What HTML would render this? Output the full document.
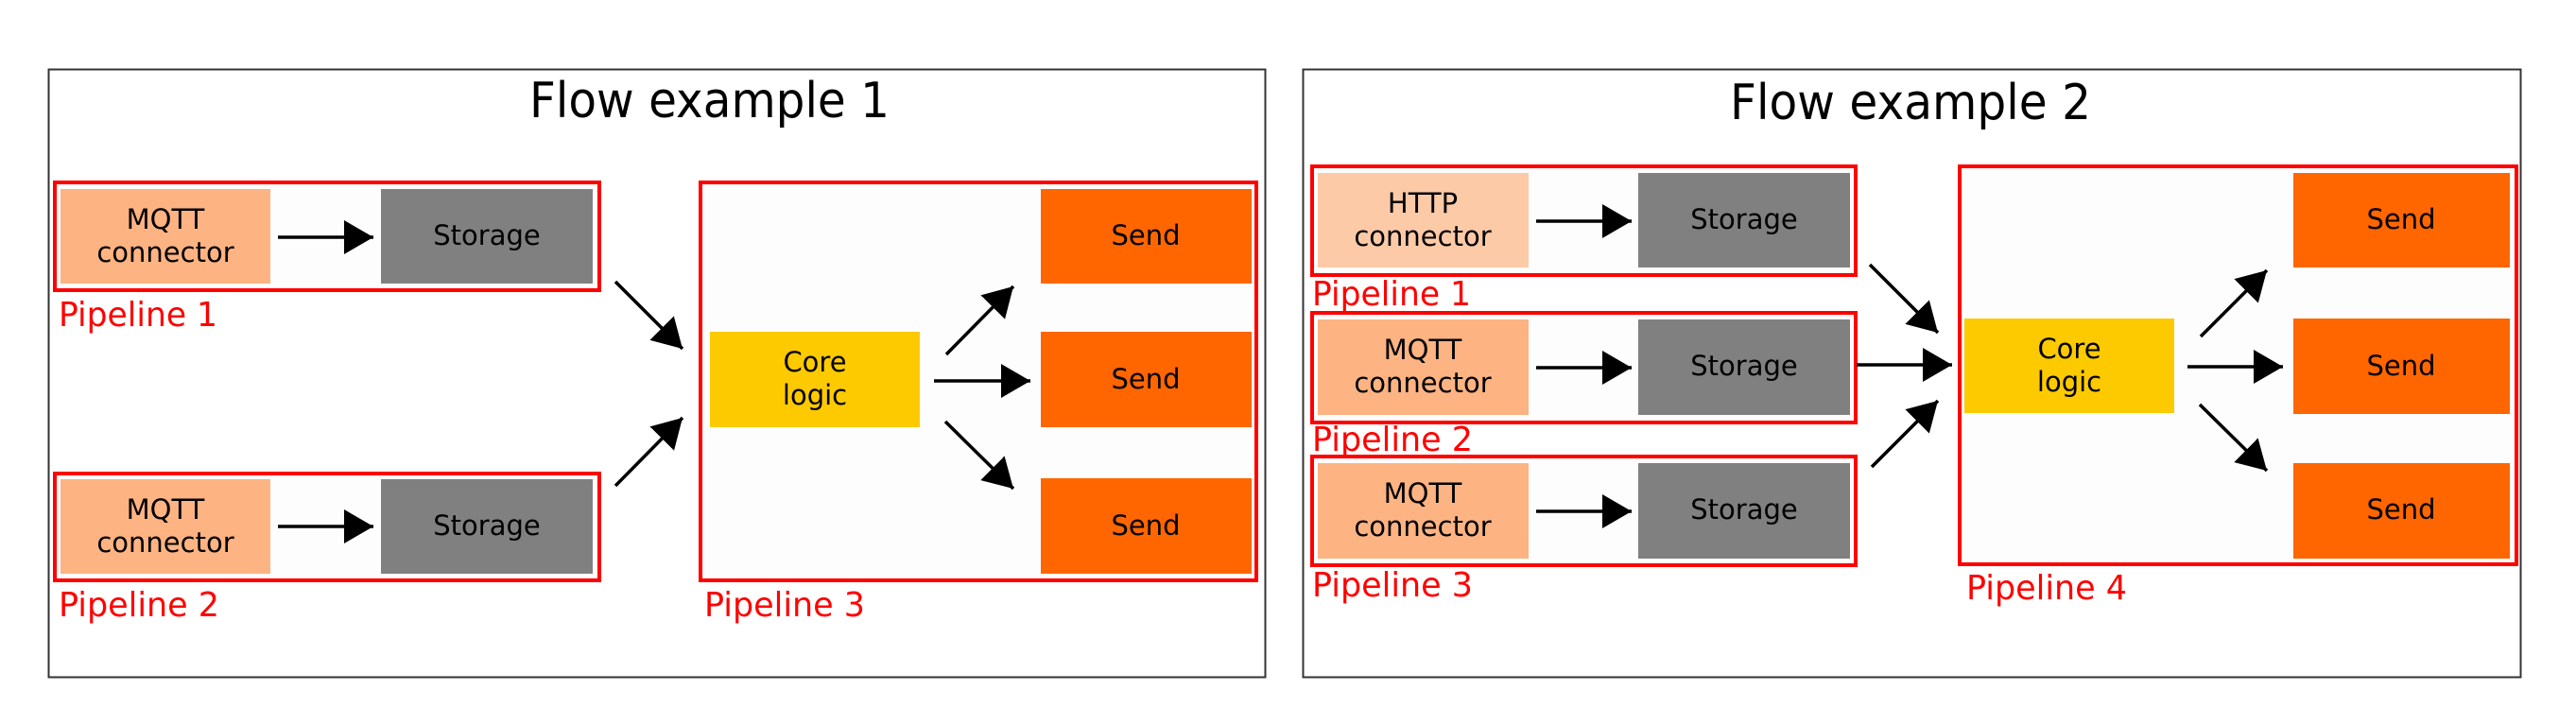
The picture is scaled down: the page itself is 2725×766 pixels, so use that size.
<!DOCTYPE html>
<html><head><meta charset="utf-8"><style>
html,body{margin:0;padding:0;background:#fff}
svg{display:block}
text{font-family:"DejaVu Sans","Liberation Sans",sans-serif}
</style></head><body>
<svg width="2725" height="766" viewBox="0 0 2725 766" xmlns="http://www.w3.org/2000/svg">
<defs>
<marker id="a" markerUnits="userSpaceOnUse" markerWidth="32" markerHeight="36" refX="31" refY="18" orient="auto">
<path d="M0,0 L31,18 L0,36 Z" fill="#000"/>
</marker>
</defs>
<rect x="51.5" y="73.5" width="1287" height="643" fill="#fff" stroke="#333" stroke-width="2"/>
<rect x="1378.5" y="73.5" width="1288" height="643" fill="#fff" stroke="#333" stroke-width="2"/>
<text x="560" y="124" font-size="52" textLength="381" lengthAdjust="spacingAndGlyphs">Flow example 1</text>
<text x="1830" y="126" font-size="52" textLength="382" lengthAdjust="spacingAndGlyphs">Flow example 2</text>

<g font-size="29" text-anchor="middle" fill="#000">
<rect x="58" y="193" width="576" height="114" fill="#fdfdfd" stroke="#f00" stroke-width="4"/>
<rect x="64" y="200" width="222" height="100" fill="#fdb382"/>
<text x="175" y="242">MQTT</text><text x="175" y="277">connector</text>
<rect x="403" y="200" width="224" height="100" fill="#808080"/>
<text x="515" y="259">Storage</text>
<line x1="294" y1="251" x2="395" y2="251" stroke="#000" stroke-width="3.5" marker-end="url(#a)"/>

<rect x="58" y="501" width="576" height="113" fill="#fdfdfd" stroke="#f00" stroke-width="4"/>
<rect x="64" y="507" width="222" height="100" fill="#fdb382"/>
<text x="175" y="549">MQTT</text><text x="175" y="584">connector</text>
<rect x="403" y="507" width="224" height="100" fill="#808080"/>
<text x="515" y="566">Storage</text>
<line x1="294" y1="557" x2="395" y2="557" stroke="#000" stroke-width="3.5" marker-end="url(#a)"/>

<rect x="741" y="193" width="588" height="421" fill="#fdfdfd" stroke="#f00" stroke-width="4"/>
<rect x="751" y="351" width="222" height="101" fill="#fdca00"/>
<text x="862" y="393">Core</text><text x="862" y="428">logic</text>
<rect x="1101" y="200" width="223" height="100" fill="#ff6600"/><text x="1212" y="259">Send</text>
<rect x="1101" y="351" width="223" height="101" fill="#ff6600"/><text x="1212" y="411">Send</text>
<rect x="1101" y="506" width="223" height="101" fill="#ff6600"/><text x="1212" y="566">Send</text>
<line x1="651" y1="298" x2="722" y2="369" stroke="#000" stroke-width="3.5" marker-end="url(#a)"/>
<line x1="651" y1="514" x2="722" y2="442" stroke="#000" stroke-width="3.5" marker-end="url(#a)"/>
<line x1="1001" y1="375" x2="1072" y2="303" stroke="#000" stroke-width="3.5" marker-end="url(#a)"/>
<line x1="988" y1="403" x2="1090" y2="403" stroke="#000" stroke-width="3.5" marker-end="url(#a)"/>
<line x1="1000" y1="446" x2="1072" y2="517" stroke="#000" stroke-width="3.5" marker-end="url(#a)"/>

<rect x="1388" y="176" width="575" height="115" fill="#fdfdfd" stroke="#f00" stroke-width="4"/>
<rect x="1394" y="183" width="223" height="100" fill="#fccaa7"/>
<text x="1505" y="225">HTTP</text><text x="1505" y="260">connector</text>
<rect x="1733" y="183" width="224" height="100" fill="#808080"/>
<text x="1845" y="242">Storage</text>
<line x1="1625" y1="234" x2="1726" y2="234" stroke="#000" stroke-width="3.5" marker-end="url(#a)"/>

<rect x="1388" y="331" width="575" height="116" fill="#fdfdfd" stroke="#f00" stroke-width="4"/>
<rect x="1394" y="338" width="223" height="101" fill="#fdb382"/>
<text x="1505" y="380">MQTT</text><text x="1505" y="415">connector</text>
<rect x="1733" y="338" width="224" height="101" fill="#808080"/>
<text x="1845" y="397">Storage</text>
<line x1="1625" y1="389" x2="1726" y2="389" stroke="#000" stroke-width="3.5" marker-end="url(#a)"/>

<rect x="1388" y="483" width="575" height="115" fill="#fdfdfd" stroke="#f00" stroke-width="4"/>
<rect x="1394" y="490" width="223" height="101" fill="#fdb382"/>
<text x="1505" y="532">MQTT</text><text x="1505" y="567">connector</text>
<rect x="1733" y="490" width="224" height="101" fill="#808080"/>
<text x="1845" y="549">Storage</text>
<line x1="1625" y1="541" x2="1726" y2="541" stroke="#000" stroke-width="3.5" marker-end="url(#a)"/>

<rect x="2073" y="176" width="589" height="421" fill="#fdfdfd" stroke="#f00" stroke-width="4"/>
<rect x="2078" y="337" width="222" height="100" fill="#fdca00"/>
<text x="2189" y="379">Core</text><text x="2189" y="414">logic</text>
<rect x="2426" y="183" width="229" height="100" fill="#ff6600"/><text x="2540" y="242">Send</text>
<rect x="2426" y="337" width="229" height="101" fill="#ff6600"/><text x="2540" y="397">Send</text>
<rect x="2426" y="490" width="229" height="101" fill="#ff6600"/><text x="2540" y="549">Send</text>
<line x1="1978" y1="280" x2="2050" y2="352" stroke="#000" stroke-width="3.5" marker-end="url(#a)"/>
<line x1="1964" y1="386" x2="2065" y2="386" stroke="#000" stroke-width="3.5" marker-end="url(#a)"/>
<line x1="1980" y1="494" x2="2050" y2="424" stroke="#000" stroke-width="3.5" marker-end="url(#a)"/>
<line x1="2328" y1="356" x2="2398" y2="286" stroke="#000" stroke-width="3.5" marker-end="url(#a)"/>
<line x1="2314" y1="388" x2="2415" y2="388" stroke="#000" stroke-width="3.5" marker-end="url(#a)"/>
<line x1="2327" y1="428" x2="2398" y2="498" stroke="#000" stroke-width="3.5" marker-end="url(#a)"/>
</g>

<g font-size="36" fill="#f00">
<text x="62" y="345" textLength="168" lengthAdjust="spacingAndGlyphs">Pipeline 1</text>
<text x="62" y="652" textLength="170" lengthAdjust="spacingAndGlyphs">Pipeline 2</text>
<text x="745" y="652" textLength="170" lengthAdjust="spacingAndGlyphs">Pipeline 3</text>
<text x="1388" y="323" textLength="168" lengthAdjust="spacingAndGlyphs">Pipeline 1</text>
<text x="1388" y="477" textLength="170" lengthAdjust="spacingAndGlyphs">Pipeline 2</text>
<text x="1388" y="631" textLength="170" lengthAdjust="spacingAndGlyphs">Pipeline 3</text>
<text x="2080" y="634" textLength="170" lengthAdjust="spacingAndGlyphs">Pipeline 4</text>
</g>
</svg>
</body></html>
